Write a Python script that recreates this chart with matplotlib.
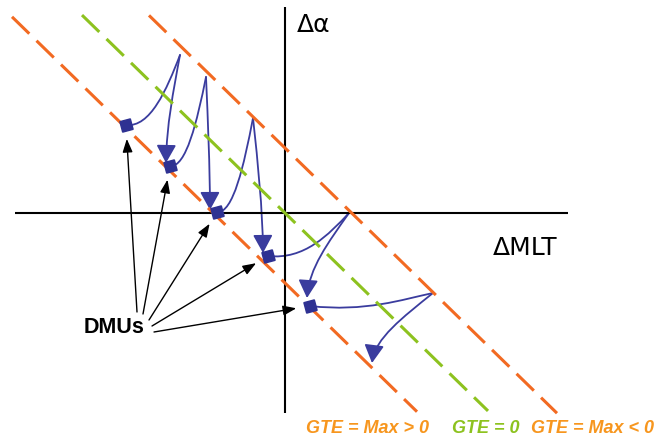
import numpy as np
from matplotlib import pyplot as plt
from matplotlib.path import Path
from matplotlib.patches import FancyArrowPatch

# diagram units: origin where the two axes cross, y up
dmu_x = [-159, -115, -68, -17, 25]
dmu_y = [88, 47, 1, -43, -93]

# where each pair of blue curves starts (the cusp)
cusp_x = [-105, -79, -32, 64, 148]
cusp_y = [158, 136, 95, 0, -80]

# where the arrowed curve of each pair ends
target_x = [-119, -75, -22, 22, 87]
target_y = [50, 3, -40, -85, -150]

# frontier lines y = offset + slope * x
frontier_offset = [-70, 0, 65]
frontier_xmin = [-273, -203, -136]
frontier_xmax = [132, 203, 272]
frontier_slope = -0.975

# tails of the black arrows next to the DMUs label
label_tail_x = [-148, -142, -136, -133, -131]
label_tail_y = [-99, -101, -107, -113, -119]

bottom_labels = ["GTE = Max > 0", "GTE = 0", "GTE = Max < 0"]

ORANGE = "#F26A22"
ORANGE_TXT = "#F7961E"
GREEN = "#8DC21F"
BLUE = "#3A3C9E"
DARK_BLUE = "#2E3192"

fig = plt.figure(figsize=(6.68, 4.37), dpi=100)
ax = fig.add_axes([0, 0, 1, 1])
ax.set_xlim(-285, 383)
ax.set_ylim(-224, 213)
ax.axis("off")

# axes of the diagram
ax.plot([-270, 283], [0, 0], color="black", lw=1.5, solid_capstyle="butt")
ax.plot([0, 0], [206, -200], color="black", lw=1.5, solid_capstyle="butt")
ax.text(12, 181, "\u0394\u03b1", fontsize=18, ha="left", va="baseline")
ax.text(208, -42, "\u0394MLT", fontsize=18, ha="left", va="baseline")

# frontier lines
for off, x0, x1, col in zip(frontier_offset, frontier_xmin, frontier_xmax,
                            [ORANGE, GREEN, ORANGE]):
    xs = np.array([x0, x1])
    ax.plot(xs, off + frontier_slope * xs, color=col, lw=2.2,
            dashes=(7.9, 3.3), dash_capstyle="butt")


def bezier(p0, p1, p2, p3):
    return Path([p0, p1, p2, p3],
                [Path.MOVETO, Path.CURVE4, Path.CURVE4, Path.CURVE4])


for ax_, ay, sx, sy, tx, ty in zip(cusp_x, cusp_y, dmu_x, dmu_y,
                                   target_x, target_y):
    dx = ax_ - sx
    dy = ay - sy
    sq_path = bezier((ax_, ay), (ax_ - 0.25 * dx, ay - 0.5 * dy),
                     (sx + 0.45 * dx, sy - 0.05 * dx), (sx, sy))
    ax.add_patch(FancyArrowPatch(path=sq_path, arrowstyle="-", color=BLUE,
                                 lw=1.3))
    arr_path = bezier((ax_, ay),
                      (ax_ + 0.5 * (tx - ax_), ay + 0.35 * (ty - ay)),
                      (tx + 0.05 * (ax_ - tx), ty + 0.35 * (ay - ty)), (tx, ty))
    ax.add_patch(FancyArrowPatch(
        path=arr_path, color=BLUE, lw=1.3,
        arrowstyle="-|>,head_length=0.55,head_width=0.3",
        mutation_scale=20))

ax.plot(dmu_x, dmu_y, linestyle="none", marker=(4, 0, 60), markersize=11,
        color=DARK_BLUE, zorder=5)

# DMUs label with its arrows
ax.text(-201, -120, "DMUs", fontsize=15.5, fontweight="bold",
        family="Liberation Sans", ha="left", va="baseline")
for tx, ty, sx, sy in zip(label_tail_x, label_tail_y, dmu_x, dmu_y):
    ax.annotate("", xy=(sx, sy), xytext=(tx, ty),
                arrowprops=dict(arrowstyle="-|>,head_length=0.8,head_width=0.3",
                                mutation_scale=10, color="black", lw=1.0,
                                shrinkA=0, shrinkB=10))

for txt, x, col in zip(bottom_labels, [21, 167, 246],
                       [ORANGE_TXT, GREEN, ORANGE_TXT]):
    ax.text(x, -220, txt, fontsize=13, fontweight="bold", fontstyle="italic",
            family="Liberation Sans", color=col, ha="left", va="baseline")

plt.savefig("out.png", dpi=100)
